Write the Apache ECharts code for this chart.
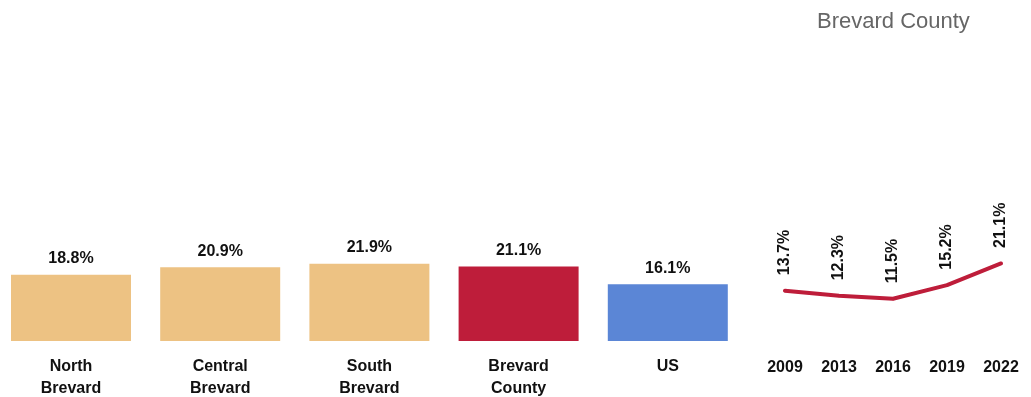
<!DOCTYPE html>
<html>
<head>
<meta charset="utf-8">
<script src="https://cdn.jsdelivr.net/npm/echarts@6/dist/echarts.min.js"></script>
<style>
  html, body { margin: 0; padding: 0; background: #fff; }
  #chart { width: 1031px; height: 397px; }
</style>
</head>
<body>
<div id="chart"></div>
<script>
// 区域对比
const regions = ["North\nBrevard", "Central\nBrevard", "South\nBrevard", "Brevard\nCounty", "US"];
const regionValues = [18.8, 20.9, 21.9, 21.1, 16.1];
// 历年趋势
const years = ["2009", "2013", "2016", "2019", "2022"];
const trendValues = [13.7, 12.3, 11.5, 15.2, 21.1];

const barColors = ["#EDC283", "#EDC283", "#EDC283", "#BE1D3A", "#5B86D6"];
const labelFont = "'Liberation Sans Narrow', 'Arial Narrow', 'Liberation Sans', sans-serif";

let myChart = echarts.init(document.getElementById("chart"));
myChart.setOption({
  animation: false,
  title: {
    text: "Brevard County",
    left: 812,
    top: 6,
    textStyle: {
      fontFamily: "'Liberation Sans', Arial, sans-serif",
      fontSize: 22,
      fontWeight: "normal",
      color: "#666666"
    }
  },
  grid: [
    { left: -3.6, width: 746, top: 200, bottom: 56, outerBoundsMode: "none" },
    { left: 758, width: 270, top: 194, bottom: 56, outerBoundsMode: "none" }
  ],
  xAxis: [
    {
      type: "category",
      gridIndex: 0,
      data: regions,
      axisLine: { show: false },
      axisTick: { show: false },
      axisLabel: {
        margin: 15,
        fontFamily: labelFont,
        fontSize: 16,
        fontWeight: "bold",
        lineHeight: 22,
        color: "#111"
      }
    },
    {
      type: "category",
      gridIndex: 1,
      data: years,
      axisLine: { show: false },
      axisTick: { show: false },
      axisLabel: {
        margin: 19,
        fontFamily: labelFont,
        fontSize: 16,
        fontWeight: "bold",
        color: "#111"
      }
    }
  ],
  yAxis: [
    { type: "value", gridIndex: 0, min: 0, max: 40, show: false },
    { type: "value", gridIndex: 1, min: 0, max: 40, show: false }
  ],
  series: [
    {
      type: "bar",
      xAxisIndex: 0,
      yAxisIndex: 0,
      barWidth: 120,
      data: regionValues.map((v, i) => ({ value: v, itemStyle: { color: barColors[i] } })),
      label: {
        show: true,
        position: "top",
        distance: 8,
        formatter: p => p.value.toFixed(1) + "%",
        fontFamily: labelFont,
        fontSize: 16,
        fontWeight: "bold",
        color: "#111"
      }
    },
    {
      type: "line",
      xAxisIndex: 1,
      yAxisIndex: 1,
      data: trendValues,
      symbol: "circle",
      symbolSize: 3,
      showSymbol: true,
      itemStyle: { color: "#BE1D3A" },
      lineStyle: { color: "#BE1D3A", width: 4, cap: "round" },
      label: {
        show: true,
        position: "top",
        rotate: 90,
        align: "left",
        verticalAlign: "middle",
        distance: 13,
        offset: [1, 0],
        formatter: p => p.value.toFixed(1) + "%",
        fontFamily: labelFont,
        fontSize: 16,
        fontWeight: "bold",
        color: "#111"
      }
    }
  ]
});
</script>
</body>
</html>
